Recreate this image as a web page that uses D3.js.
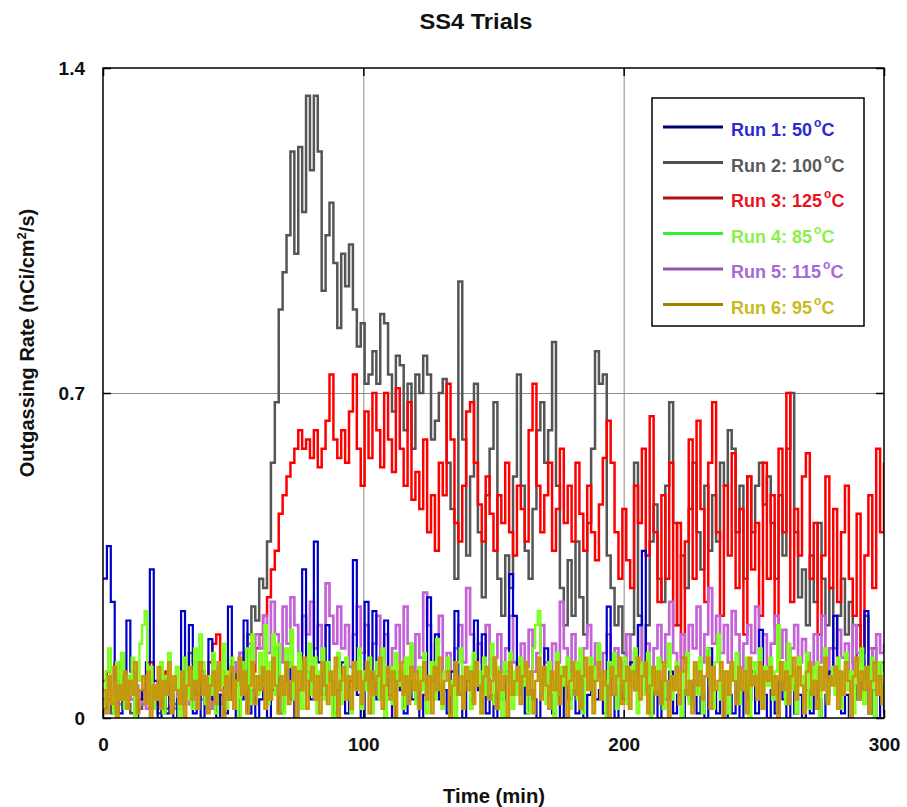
<!DOCTYPE html>
<html><head><meta charset="utf-8">
<script src="https://cdn.jsdelivr.net/npm/d3@7"></script>
<style>
html,body{margin:0;padding:0;background:#fff;}
svg text{font-family:"Liberation Sans",Arial,sans-serif;font-weight:bold;}
</style></head>
<body><svg id="chart" width="907" height="807"></svg>
<script>
// ---- data (each series sampled evenly over 0..300 min) ----
const xTickValues = [0, 100, 200, 300];
const xTickLabels = ["0", "100", "200", "300"];
const yTickValues = [0, 0.7, 1.4];
const yTickLabels = ["0", "0.7", "1.4"];
const seriesNames = ["Run 1: 50", "Run 2: 100", "Run 3: 125", "Run 4: 85", "Run 5: 115", "Run 6: 95"];

// Run 1 (1.5-min samples)
const run1 = [
0.30,0.37,0.25,0.08,0.01,0.05,0.21,0.10,0.00,0.04,
0.06,0.12,0.32,0.08,0.00,0.05,0.01,0.07,0.00,0.04,
0.23,0.06,0.20,0.01,0.08,0.00,0.05,0.17,0.04,0.00,
0.05,0.01,0.24,0.06,0.00,0.04,0.21,0.01,0.06,0.00,
0.04,0.10,0.00,0.06,0.15,0.01,0.08,0.12,0.04,0.00,
0.06,0.32,0.10,0.04,0.38,0.12,0.05,0.20,0.08,0.01,
0.06,0.12,0.01,0.08,0.34,0.05,0.00,0.25,0.06,0.23,
0.04,0.08,0.21,0.05,0.00,0.10,0.06,0.01,0.08,0.04,
0.07,0.00,0.05,0.26,0.08,0.18,0.04,0.06,0.01,0.10,
0.23,0.05,0.00,0.08,0.04,0.21,0.06,0.18,0.01,0.05,
0.00,0.06,0.04,0.10,0.31,0.22,0.05,0.08,0.01,0.06,
0.04,0.00,0.08,0.15,0.05,0.01,0.06,0.00,0.07,0.04,
0.06,0.01,0.08,0.00,0.05,0.10,0.04,0.06,0.01,0.24,
0.05,0.00,0.07,0.04,0.08,0.12,0.06,0.20,0.36,0.05,
0.01,0.06,0.00,0.08,0.04,0.10,0.01,0.05,0.00,0.06,
0.04,0.08,0.01,0.05,0.00,0.15,0.06,0.01,0.07,0.00,
0.05,0.01,0.08,0.00,0.06,0.04,0.10,0.01,0.19,0.05,
0.00,0.06,0.01,0.08,0.04,0.00,0.07,0.01,0.05,0.00,
0.06,0.01,0.08,0.04,0.00,0.05,0.10,0.22,0.06,0.01,
0.05,0.00,0.07,0.04,0.08,0.23,0.01,0.06,0.00,0.05,
0.01];

// Run 2 (1.5-min samples)
const run2 = [
0.02,0.04,0.01,0.03,0.05,0.02,0.03,0.01,0.04,0.02,
0.03,0.05,0.02,0.04,0.01,0.03,0.02,0.05,0.03,0.02,
0.06,0.10,0.14,0.12,0.08,0.05,0.03,0.04,0.02,0.05,
0.03,0.06,0.04,0.08,0.10,0.14,0.12,0.18,0.24,0.21,
0.30,0.28,0.38,0.55,0.68,0.88,0.96,1.04,1.22,1.00,
1.23,1.09,1.34,1.18,1.34,1.22,0.92,1.04,1.11,0.98,
0.84,1.00,0.93,1.02,0.88,0.80,0.85,0.72,0.74,0.79,
0.72,0.87,0.85,0.74,0.66,0.78,0.76,0.62,0.72,0.58,
0.74,0.70,0.78,0.74,0.60,0.64,0.70,0.73,0.55,0.45,
0.30,0.94,0.60,0.35,0.52,0.72,0.40,0.26,0.48,0.58,
0.68,0.30,0.22,0.35,0.28,0.52,0.74,0.50,0.36,0.30,
0.45,0.62,0.68,0.55,0.62,0.81,0.50,0.28,0.20,0.34,
0.22,0.38,0.26,0.18,0.42,0.58,0.79,0.72,0.74,0.35,
0.28,0.20,0.24,0.14,0.10,0.18,0.55,0.22,0.12,0.20,
0.38,0.46,0.30,0.25,0.50,0.68,0.42,0.20,0.35,0.28,
0.45,0.55,0.40,0.32,0.50,0.36,0.48,0.38,0.55,0.50,
0.62,0.58,0.40,0.50,0.30,0.52,0.40,0.50,0.55,0.46,
0.52,0.42,0.30,0.48,0.35,0.58,0.70,0.40,0.26,0.32,
0.20,0.35,0.25,0.42,0.30,0.20,0.28,0.15,0.22,0.30,
0.18,0.25,0.12,0.20,0.14,0.22,0.10,0.15,0.08,0.12,
0.10];

// Run 3 (1.5-min samples)
const run3 = [
0.08,0.10,0.06,0.12,0.05,0.09,0.04,0.07,0.03,0.06,
0.04,0.08,0.12,0.05,0.03,0.06,0.10,0.04,0.02,0.05,
0.03,0.06,0.04,0.08,0.05,0.10,0.07,0.12,0.16,0.18,
0.10,0.06,0.08,0.04,0.07,0.10,0.08,0.12,0.10,0.15,
0.18,0.22,0.26,0.32,0.36,0.44,0.48,0.52,0.55,0.58,
0.62,0.58,0.60,0.56,0.62,0.54,0.58,0.64,0.74,0.60,
0.56,0.62,0.55,0.66,0.74,0.58,0.50,0.66,0.56,0.70,
0.62,0.54,0.70,0.60,0.53,0.71,0.58,0.50,0.68,0.47,
0.53,0.45,0.60,0.40,0.48,0.36,0.55,0.48,0.72,0.60,
0.42,0.38,0.50,0.66,0.68,0.55,0.46,0.38,0.52,0.44,
0.36,0.48,0.42,0.55,0.40,0.35,0.50,0.45,0.38,0.62,
0.72,0.50,0.40,0.48,0.55,0.36,0.45,0.58,0.42,0.50,
0.38,0.55,0.44,0.36,0.50,0.40,0.34,0.46,0.56,0.64,
0.55,0.40,0.30,0.45,0.34,0.28,0.50,0.42,0.58,0.35,
0.65,0.40,0.25,0.48,0.30,0.55,0.20,0.42,0.13,0.38,
0.60,0.30,0.64,0.45,0.25,0.55,0.68,0.40,0.22,0.50,
0.35,0.57,0.28,0.45,0.18,0.52,0.32,0.42,0.22,0.55,
0.30,0.48,0.20,0.58,0.40,0.70,0.25,0.45,0.35,0.52,
0.57,0.30,0.42,0.18,0.35,0.52,0.28,0.45,0.25,0.40,
0.50,0.30,0.22,0.44,0.15,0.35,0.48,0.28,0.58,0.40,
0.55];

// Run 4 (1-min samples)
const run4 = [
0.03,0.10,0.15,0.06,0.01,0.12,0.04,0.14,0.02,0.09,0.05,0.13,0.00,0.08,0.16,0.20,0.23,0.06,0.11,0.02,
0.07,0.04,0.12,0.01,0.09,0.14,0.03,0.08,0.11,0.00,0.06,0.13,0.04,0.10,0.02,0.15,0.07,0.18,0.12,0.03,
0.09,0.05,0.14,0.01,0.11,0.07,0.16,0.02,0.10,0.13,0.04,0.08,0.00,0.12,0.06,0.15,0.03,0.18,0.09,0.05,
0.14,0.07,0.20,0.03,0.12,0.18,0.05,0.16,0.09,0.01,0.15,0.11,0.19,0.04,0.10,0.14,0.02,0.12,0.08,0.16,
0.05,0.13,0.01,0.10,0.15,0.04,0.12,0.08,0.00,0.11,0.14,0.03,0.09,0.13,0.06,0.01,0.12,0.07,0.15,0.02,
0.10,0.06,0.13,0.01,0.08,0.12,0.04,0.15,0.00,0.09,0.11,0.03,0.14,0.07,0.10,0.02,0.13,0.05,0.16,0.08,
0.03,0.11,0.06,0.14,0.01,0.09,0.12,0.04,0.17,0.07,0.02,0.10,0.13,0.05,0.08,0.00,0.12,0.15,0.04,0.09,
0.11,0.02,0.14,0.07,0.10,0.01,0.13,0.05,0.09,0.16,0.03,0.11,0.06,0.00,0.12,0.08,0.14,0.02,0.10,0.05,
0.13,0.07,0.11,0.01,0.09,0.15,0.20,0.23,0.06,0.10,0.03,0.12,0.08,0.00,0.14,0.05,0.11,0.07,0.13,0.02,
0.09,0.12,0.04,0.15,0.01,0.10,0.07,0.13,0.03,0.11,0.16,0.05,0.08,0.00,0.12,0.09,0.14,0.02,0.10,0.06,
0.13,0.03,0.11,0.07,0.15,0.01,0.09,0.12,0.05,0.14,0.00,0.10,0.06,0.13,0.08,0.02,0.11,0.16,0.04,0.09,
0.12,0.06,0.00,0.10,0.14,0.03,0.08,0.11,0.05,0.13,0.01,0.09,0.15,0.07,0.02,0.12,0.18,0.04,0.10,0.06,
0.01,0.11,0.08,0.14,0.03,0.10,0.06,0.13,0.00,0.09,0.12,0.05,0.15,0.02,0.11,0.07,0.13,0.04,0.10,0.20,
0.08,0.12,0.03,0.16,0.06,0.10,0.01,0.13,0.09,0.05,0.14,0.02,0.11,0.07,0.12,0.00,0.10,0.15,0.04,0.08,
0.11,0.05,0.13,0.02,0.09,0.14,0.06,0.10,0.01,0.12,0.08,0.15,0.03,0.11,0.07,0.13,0.00,0.09,0.12,0.05,
0.08];

// Run 5 (1.5-min samples)
const run5 = [
0.04,0.08,0.05,0.10,0.03,0.06,0.09,0.04,0.07,0.03,
0.05,0.02,0.08,0.04,0.06,0.03,0.09,0.05,0.02,0.06,
0.04,0.07,0.03,0.05,0.08,0.04,0.06,0.02,0.05,0.09,
0.06,0.04,0.08,0.12,0.10,0.14,0.09,0.16,0.12,0.18,
0.15,0.22,0.14,0.25,0.18,0.12,0.24,0.16,0.26,0.20,
0.14,0.22,0.18,0.25,0.15,0.20,0.12,0.29,0.22,0.16,
0.24,0.15,0.20,0.11,0.18,0.24,0.14,0.20,0.10,0.16,
0.22,0.12,0.18,0.08,0.15,0.20,0.12,0.24,0.16,0.10,
0.18,0.13,0.27,0.20,0.12,0.16,0.22,0.10,0.14,0.08,
0.15,0.20,0.12,0.28,0.18,0.10,0.16,0.12,0.20,0.08,
0.13,0.18,0.10,0.15,0.22,0.12,0.08,0.16,0.11,0.19,
0.10,0.14,0.20,0.12,0.08,0.16,0.12,0.25,0.15,0.10,
0.18,0.12,0.08,0.15,0.20,0.11,0.16,0.09,0.14,0.18,
0.10,0.15,0.08,0.12,0.18,0.10,0.14,0.20,0.12,0.16,
0.09,0.15,0.20,0.12,0.18,0.25,0.14,0.10,0.18,0.12,
0.20,0.15,0.24,0.12,0.18,0.28,0.16,0.22,0.14,0.20,
0.12,0.23,0.18,0.10,0.16,0.20,0.14,0.24,0.12,0.18,
0.10,0.16,0.22,0.13,0.19,0.08,0.15,0.20,0.12,0.17,
0.14,0.10,0.18,0.12,0.22,0.09,0.15,0.11,0.19,0.13,
0.16,0.10,0.20,0.14,0.12,0.08,0.15,0.11,0.18,0.14,
0.16];

// Run 6 (1-min samples)
const run6 = [
0.06,0.01,0.09,0.03,0.11,0.00,0.07,0.04,0.10,0.02,0.08,0.05,0.12,0.01,0.06,0.09,0.03,0.10,0.00,0.07,
0.04,0.11,0.02,0.08,0.05,0.12,0.01,0.09,0.06,0.03,0.10,0.00,0.07,0.11,0.04,0.08,0.02,0.12,0.05,0.09,
0.01,0.07,0.10,0.03,0.12,0.06,0.00,0.09,0.04,0.11,0.02,0.08,0.13,0.05,0.10,0.01,0.07,0.12,0.03,0.09,
0.06,0.11,0.02,0.10,0.04,0.13,0.07,0.01,0.09,0.05,0.12,0.03,0.08,0.11,0.00,0.10,0.06,0.13,0.02,0.08,
0.11,0.04,0.09,0.01,0.12,0.07,0.03,0.10,0.05,0.13,0.00,0.08,0.11,0.04,0.09,0.02,0.12,0.06,0.10,0.03,
0.08,0.12,0.01,0.10,0.05,0.09,0.13,0.02,0.07,0.11,0.04,0.10,0.00,0.08,0.12,0.05,0.09,0.03,0.11,0.06,
0.10,0.02,0.08,0.12,0.04,0.09,0.01,0.11,0.06,0.13,0.03,0.08,0.10,0.00,0.07,0.12,0.05,0.09,0.02,0.11,
0.06,0.10,0.03,0.12,0.07,0.01,0.09,0.11,0.04,0.08,0.13,0.02,0.10,0.06,0.09,0.00,0.12,0.05,0.08,0.11,
0.03,0.09,0.12,0.05,0.10,0.01,0.08,0.13,0.04,0.11,0.07,0.02,0.10,0.06,0.12,0.03,0.09,0.11,0.00,0.08,
0.12,0.05,0.10,0.02,0.09,0.13,0.06,0.11,0.01,0.08,0.12,0.04,0.10,0.07,0.00,0.11,0.05,0.09,0.13,0.03,
0.08,0.11,0.02,0.10,0.06,0.13,0.04,0.09,0.12,0.01,0.07,0.11,0.05,0.10,0.03,0.12,0.08,0.00,0.09,0.06,
0.11,0.03,0.10,0.13,0.05,0.08,0.01,0.12,0.07,0.10,0.04,0.09,0.13,0.02,0.11,0.06,0.08,0.12,0.00,0.10,
0.05,0.12,0.08,0.03,0.11,0.06,0.10,0.01,0.13,0.07,0.09,0.04,0.12,0.02,0.10,0.08,0.11,0.05,0.09,0.00,
0.12,0.06,0.10,0.03,0.09,0.13,0.04,0.11,0.07,0.01,0.10,0.12,0.05,0.08,0.02,0.11,0.06,0.13,0.03,0.09,
0.07,0.11,0.02,0.10,0.05,0.12,0.08,0.00,0.09,0.13,0.04,0.10,0.06,0.11,0.01,0.08,0.12,0.05,0.09,0.03,
0.07];

// ---- drawing ----
const svg = d3.select("#chart");
const L = 103, R = 884, T = 68, B = 718;
const x = d3.scaleLinear().domain([0, 300]).range([L, R]);
const y = d3.scaleLinear().domain([0, 1.4]).range([B, T]);

const series = [
  {name: seriesNames[0], values: run1, color: "#0000c8", legendLine: "#000070", text: "#2a2ad0", w: 2.2},
  {name: seriesNames[1], values: run2, color: "#555555", legendLine: "#505050", text: "#5a5a5a", w: 2.5},
  {name: seriesNames[2], values: run3, color: "#ff0000", legendLine: "#b01010", text: "#e8141e", w: 2.5},
  {name: seriesNames[3], values: run4, color: "#7cff1a", legendLine: "#30f030", text: "#8cf04a", w: 2.4},
  {name: seriesNames[4], values: run5, color: "#c463d8", legendLine: "#8a5aa8", text: "#a46ad6", w: 2.7},
  {name: seriesNames[5], values: run6, color: "#c8960c", legendLine: "#9a8400", text: "#c8bc1c", w: 2.4}
];
const drawOrder = [1, 2, 4, 0, 3, 5];

// grid lines
svg.append("g").attr("transform", `translate(0,${B})`)
  .call(d3.axisBottom(x).tickValues([100, 200]).tickSize(-(B - T)).tickFormat(""))
  .call(g => g.select(".domain").remove())
  .call(g => g.selectAll("line").attr("stroke", "#8c8c8c").attr("stroke-width", 1));
svg.append("g").attr("transform", `translate(${L},0)`)
  .call(d3.axisLeft(y).tickValues([0.7]).tickSize(-(R - L)).tickFormat(""))
  .call(g => g.select(".domain").remove())
  .call(g => g.selectAll("line").attr("stroke", "#8c8c8c").attr("stroke-width", 1));

svg.append("defs").append("clipPath").attr("id", "clip")
  .append("rect").attr("x", L).attr("y", T).attr("width", R - L).attr("height", B - T);

const plot = svg.append("g").attr("clip-path", "url(#clip)");
drawOrder.forEach(k => {
  const s = series[k];
  const step = 300 / (s.values.length - 1);
  const line = d3.line()
    .x((d, i) => x(i * step))
    .y(d => y(d))
    .curve(d3.curveStepAfter);
  plot.append("path").datum(s.values)
    .attr("fill", "none").attr("stroke", s.color)
    .attr("stroke-width", s.w).attr("d", line);
});

// frame
svg.append("rect").attr("x", L).attr("y", T).attr("width", R - L).attr("height", B - T)
  .attr("fill", "none").attr("stroke", "#000").attr("stroke-width", 1.5);

// inward ticks on all sides
const tickG = svg.append("g").attr("class", "frameTicks");
tickG.append("g").attr("transform", `translate(0,${B})`)
  .call(d3.axisTop(x).tickValues(xTickValues).tickSize(8).tickFormat(""));
tickG.append("g").attr("transform", `translate(0,${T})`)
  .call(d3.axisBottom(x).tickValues(xTickValues).tickSize(8).tickFormat(""));
tickG.append("g").attr("transform", `translate(${L},0)`)
  .call(d3.axisRight(y).tickValues(yTickValues).tickSize(8).tickFormat(""));
tickG.append("g").attr("transform", `translate(${R},0)`)
  .call(d3.axisLeft(y).tickValues(yTickValues).tickSize(8).tickFormat(""));
tickG.selectAll(".domain").remove();
tickG.selectAll("line").attr("stroke", "#000").attr("stroke-width", 1.5);

// tick labels
svg.append("g").attr("transform", `translate(0,${B})`)
  .call(d3.axisBottom(x).tickValues(xTickValues).tickSize(0).tickPadding(20)
    .tickFormat((d, i) => xTickLabels[i]))
  .call(g => g.select(".domain").remove())
  .call(g => g.selectAll("text").attr("font-size", 19).attr("fill", "#111")
    .attr("font-family", "'Liberation Sans',Arial,sans-serif").attr("font-weight", "bold"));
svg.append("g").attr("transform", `translate(${L},0)`)
  .call(d3.axisLeft(y).tickValues(yTickValues).tickSize(0).tickPadding(18)
    .tickFormat((d, i) => yTickLabels[i]))
  .call(g => g.select(".domain").remove())
  .call(g => g.selectAll("text").attr("font-size", 19).attr("fill", "#111")
    .attr("font-family", "'Liberation Sans',Arial,sans-serif").attr("font-weight", "bold"));

// titles
svg.append("text").attr("x", 476).attr("y", 29).attr("text-anchor", "middle")
  .attr("font-size", 22).attr("fill", "#111")
  .attr("textLength", 113).attr("lengthAdjust", "spacingAndGlyphs").text("SS4 Trials");
svg.append("text").attr("x", 494).attr("y", 803).attr("text-anchor", "middle")
  .attr("font-size", 20).attr("fill", "#111")
  .attr("textLength", 102).attr("lengthAdjust", "spacingAndGlyphs").text("Time (min)");
const yl = svg.append("text").attr("transform", "translate(34,343) rotate(-90)")
  .attr("text-anchor", "middle").attr("font-size", 20).attr("fill", "#111");
yl.append("tspan").text("Outgassing Rate (nCi/cm");
yl.append("tspan").attr("font-size", 13).attr("dy", -8).text("2");
yl.append("tspan").attr("dy", 8).text("/s)");

// legend
const lg = svg.append("g");
lg.append("rect").attr("x", 652).attr("y", 98).attr("width", 212).attr("height", 228)
  .attr("fill", "#fff").attr("stroke", "#000").attr("stroke-width", 1.5);
series.forEach((s, i) => {
  const yy = 127 + i * 35.5;
  lg.append("line").attr("x1", 663).attr("x2", 723).attr("y1", yy).attr("y2", yy)
    .attr("stroke", s.legendLine).attr("stroke-width", 3);
  const t = lg.append("text").attr("x", 731).attr("y", yy + 9)
    .attr("font-size", 18).attr("fill", s.text);
  t.append("tspan").text(s.name);
  t.append("tspan").attr("font-size", 12).attr("dx", 2).attr("dy", -9).text("o");
  t.append("tspan").attr("dy", 9).text("C");
});
</script></body></html>
